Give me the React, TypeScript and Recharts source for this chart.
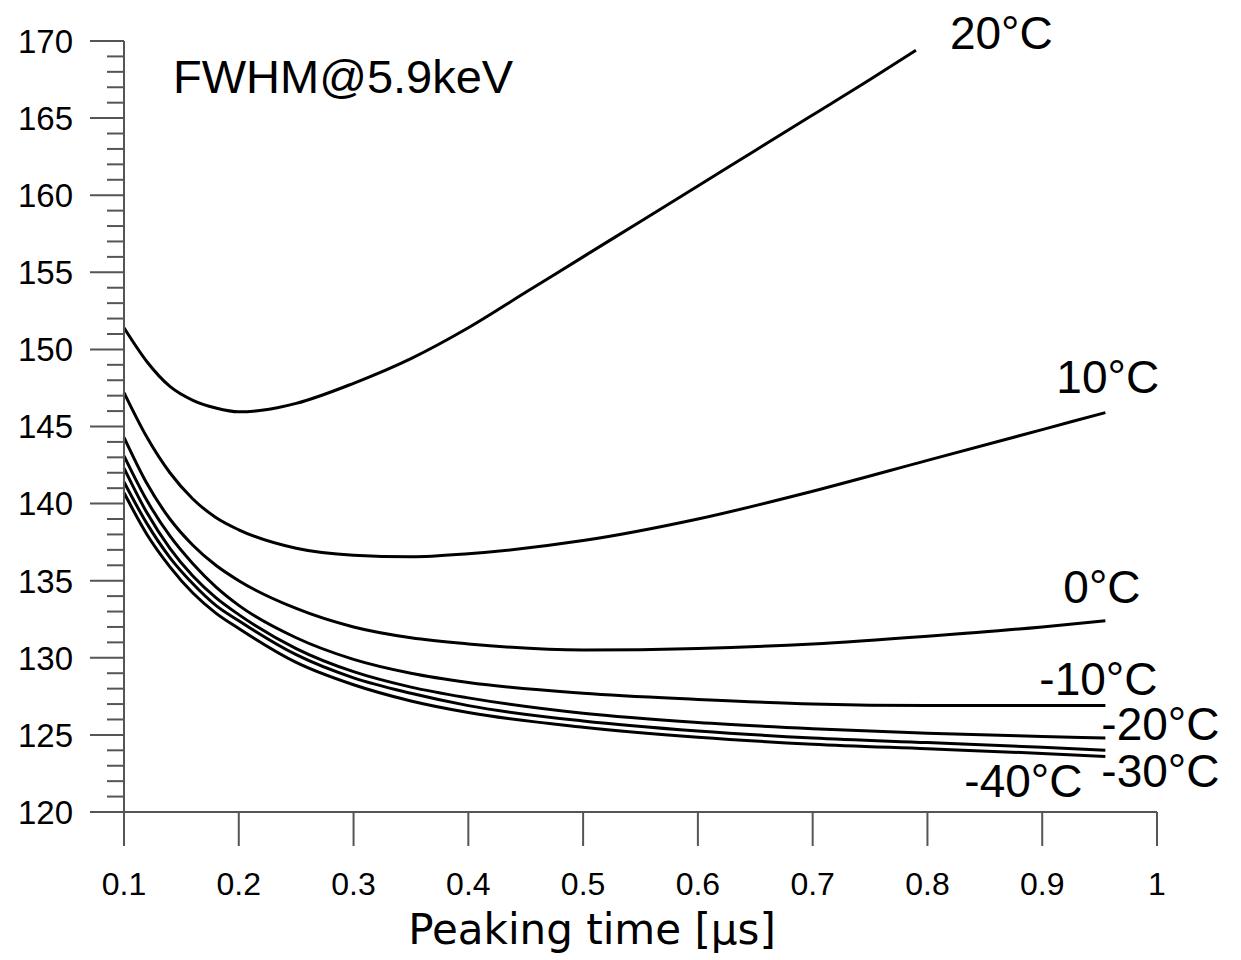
import { LineChart, Line, XAxis, YAxis } from 'recharts';

// peaking time [µs] sample points
const peakTimes = [0.1, 0.12, 0.14, 0.16, 0.18, 0.2, 0.25, 0.3, 0.35, 0.4, 0.5, 0.6, 0.7, 0.8, 0.9, 0.955];
const peakTimes20 = [0.1, 0.12, 0.14, 0.16, 0.18, 0.2, 0.22, 0.25, 0.3, 0.35, 0.4, 0.45, 0.5, 0.55, 0.6, 0.65, 0.7, 0.75, 0.79];

// FWHM [eV] at 5.9 keV per temperature
const fwhm20 = [151.4, 149.2, 147.6, 146.7, 146.2, 145.95, 146.05, 146.5, 147.8, 149.4, 151.4, 153.7, 156.0, 158.3, 160.6, 162.9, 165.2, 167.5, 169.4];
const fwhm10 = [147.2, 144.3, 142.0, 140.3, 139.1, 138.3, 137.1, 136.65, 136.55, 136.75, 137.6, 139.0, 140.8, 142.8, 144.8, 145.9];
const fwhm0 = [144.3, 141.3, 139.0, 137.3, 136.0, 135.0, 133.2, 132.0, 131.3, 130.9, 130.5, 130.6, 130.9, 131.4, 132.0, 132.4];
const fwhmM10 = [143.1, 140.2, 137.9, 136.1, 134.6, 133.4, 131.3, 129.9, 129.0, 128.4, 127.7, 127.3, 127.0, 126.9, 126.9, 126.9];
const fwhmM20 = [142.3, 139.4, 137.1, 135.3, 133.9, 132.8, 130.6, 129.1, 128.1, 127.4, 126.4, 125.8, 125.4, 125.1, 124.9, 124.8];
const fwhmM30 = [141.4, 138.7, 136.5, 134.8, 133.4, 132.4, 130.2, 128.7, 127.7, 126.9, 125.9, 125.25, 124.8, 124.5, 124.2, 124.0];
const fwhmM40 = [140.7, 138.0, 135.9, 134.2, 132.9, 131.9, 129.7, 128.25, 127.2, 126.45, 125.5, 124.85, 124.4, 124.1, 123.8, 123.6];

const temps = ['20°C', '10°C', '0°C', '-10°C', '-20°C', '-30°C', '-40°C'];

const xTicks = [0.1, 0.2, 0.3, 0.4, 0.5, 0.6, 0.7, 0.8, 0.9, 1];
const yTicks = Array.from({ length: 51 }, (_, i) => 120 + i);

// where each temperature tag sits relative to the curve's last point
const tagOffsets: [number, number][] = [
  [34, -1],
  [-49, -20],
  [-42, -18],
  [-66, -11],
  [-4, 2],
  [-4, 37],
  [-141, 41],
];

const AXIS = '#555';
const SANS = '"Liberation Sans", Arial, sans-serif';

const toPoints = (xs: number[], ys: number[]) => xs.map((t, i) => ({ t, v: ys[i] }));

const series = [
  toPoints(peakTimes20, fwhm20),
  toPoints(peakTimes, fwhm10),
  toPoints(peakTimes, fwhm0),
  toPoints(peakTimes, fwhmM10),
  toPoints(peakTimes, fwhmM20),
  toPoints(peakTimes, fwhmM30),
  toPoints(peakTimes, fwhmM40),
];

function YTick({ x, y, payload }: any) {
  const major = payload.value % 5 === 0;
  return (
    <g>
      <line x1={x - (major ? 34 : 17)} x2={x} y1={y} y2={y} stroke={AXIS} strokeWidth={2} />
      {major && (
        <text x={x - 51} y={y} dy="0.36em" textAnchor="end" fontSize={33} fontFamily={SANS} fill="#000">
          {payload.value}
        </text>
      )}
    </g>
  );
}

function XTick({ x, y, payload }: any) {
  return (
    <g>
      <line x1={x} x2={x} y1={y} y2={y + 34} stroke={AXIS} strokeWidth={2} />
      <text x={x} y={y + 83} textAnchor="middle" fontSize={32} fontFamily={SANS} fill="#000">
        {payload.value}
      </text>
    </g>
  );
}

function endTag(idx: number) {
  const last = series[idx].length - 1;
  const [dx, dy] = tagOffsets[idx];
  return (props: any) => {
    if (props.index !== last) return <g key={`tag-${idx}-${props.index}`} />;
    return (
      <text
        key={`tag-${idx}`}
        x={props.x + dx}
        y={props.y + dy}
        fontSize={46}
        fontFamily={SANS}
        fill="#000"
      >
        {temps[idx]}
      </text>
    );
  };
}

export default function App() {
  return (
    <div style={{ position: 'absolute', left: 0, top: 0 }}>
      <LineChart width={1241} height={960} margin={{ top: 41, right: 84, bottom: 88, left: 24 }}>
        <XAxis
          dataKey="t"
          type="number"
          domain={[0.1, 1]}
          ticks={xTicks}
          interval={0}
          allowDuplicatedCategory={false}
          height={60}
          stroke={AXIS}
          strokeWidth={2}
          tickLine={false}
          tickSize={0}
          tickMargin={0}
          tick={<XTick />}
          label={({ viewBox }: any) => (
            <text
              x={(viewBox?.x ?? 124) + 468}
              y={(viewBox?.y ?? 812) + 132}
              textAnchor="middle"
              fontSize={42}
              fontFamily='"Comic Sans MS", "DejaVu Sans", sans-serif'
              fill="#000"
            >
              Peaking time [μs]
            </text>
          )}
        />
        <YAxis
          type="number"
          domain={[120, 170]}
          ticks={yTicks}
          interval={0}
          width={100}
          stroke={AXIS}
          strokeWidth={2}
          tickLine={false}
          tickSize={0}
          tickMargin={0}
          tick={<YTick />}
          label={({ viewBox }: any) => (
            <text
              x={(viewBox?.x ?? 24) + (viewBox?.width ?? 100) + 49}
              y={(viewBox?.y ?? 41) + 52}
              fontSize={47}
              fontFamily={SANS}
              fill="#000"
            >
              FWHM@5.9keV
            </text>
          )}
        />
        {series.map((pts, i) => (
          <Line
            key={temps[i]}
            data={pts}
            dataKey="v"
            name={temps[i]}
            type="monotone"
            stroke="#000"
            strokeWidth={3}
            dot={false}
            activeDot={false}
            isAnimationActive={false}
            label={endTag(i)}
          />
        ))}
      </LineChart>
    </div>
  );
}
